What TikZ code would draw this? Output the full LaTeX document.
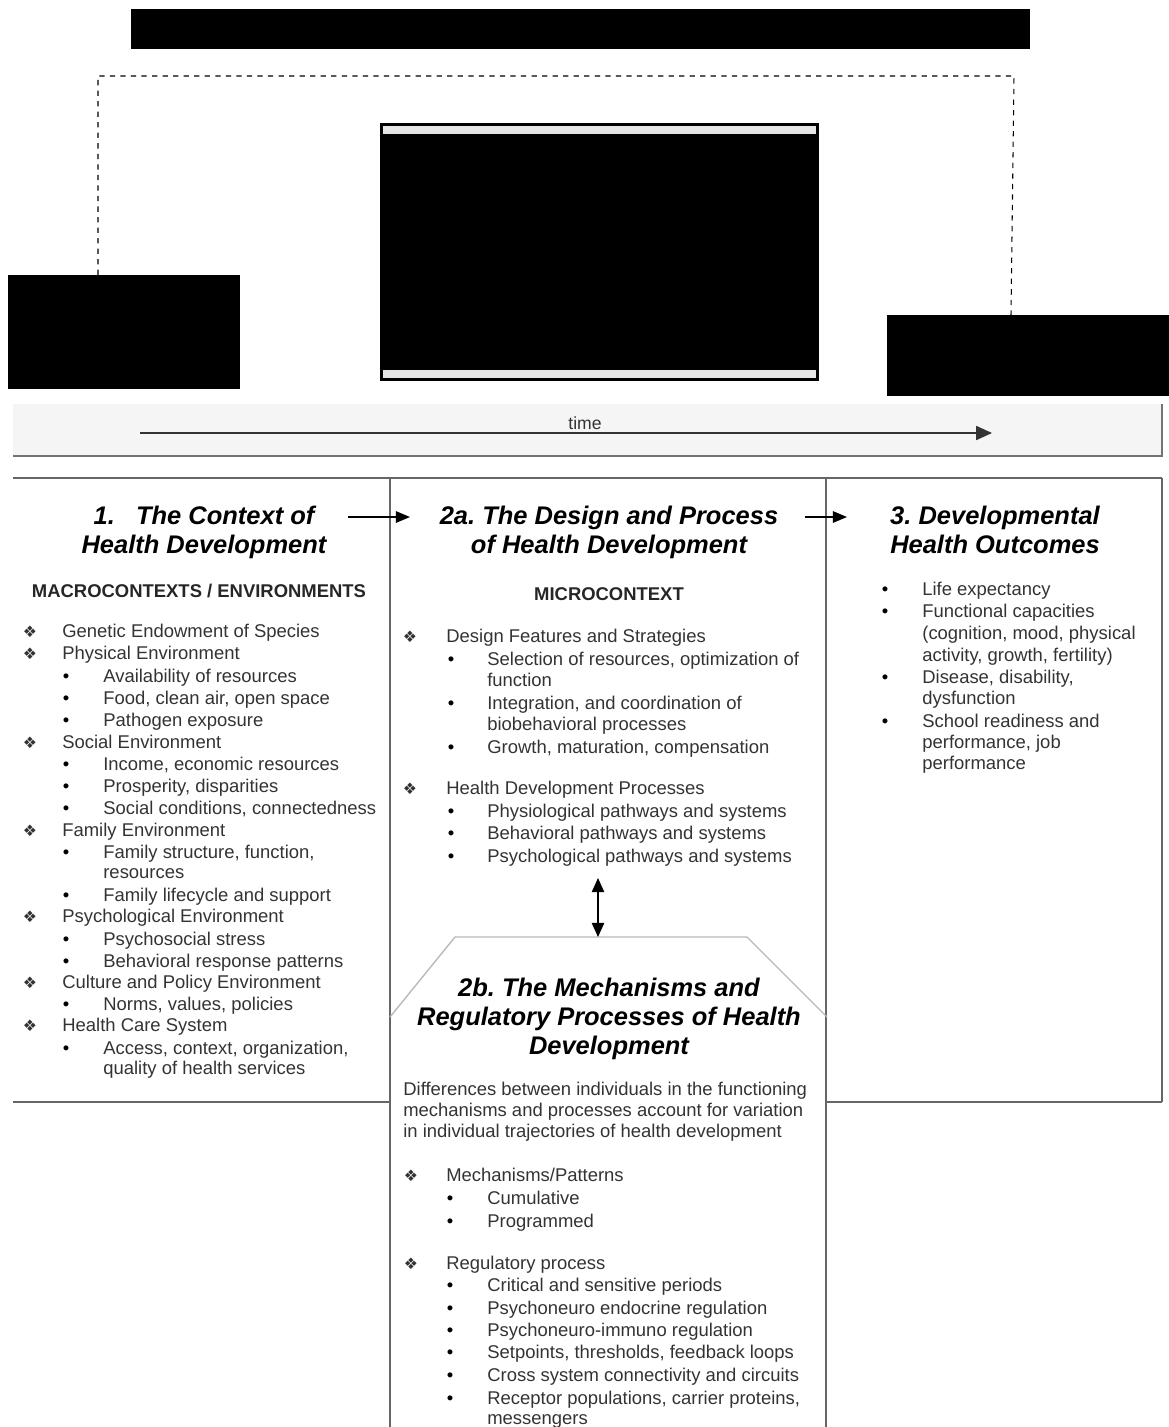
\documentclass[tikz,border=0pt]{standalone}
\usepackage{fontspec}
\setmainfont{Liberation Sans}
\newfontfamily\dingfont{DejaVu Sans}
\usetikzlibrary{arrows.meta}
\frenchspacing

\begin{document}
\begin{tikzpicture}[x=0.02cm, y=-0.02cm,
  frame/.style={draw=black!60, line width=1pt},
  hdr/.style={font=\fontsize{14.5}{16.5}\selectfont\bfseries\itshape, align=center, anchor=base, inner sep=0pt},
  subcap/.style={font=\fontsize{10.5}{12}\selectfont\bfseries, text=black!85, anchor=base, inner sep=0pt},
  itm/.style={font=\fontsize{10.5}{12}\selectfont, text=black!80, anchor=base west, inner sep=0pt},
  dia/.style={font=\dingfont\fontsize{9}{10}\selectfont, text=black!80, anchor=base, inner sep=0pt},
  dot/.style={font=\fontsize{10.5}{12}\selectfont, anchor=base, inner sep=0pt},
  flow/.style={-{Triangle[length=8pt,width=6.5pt]}, line width=0.8pt}]
\useasboundingbox (0,0) rectangle (1169,1427);

%% top: redacted blocks and the dashed link
\fill (131,9) rectangle (1030,49);
\draw[dashed, line width=0.6pt] (98,275) -- (98,76) -- (1014,76) -- (1011,315);
\draw[fill=black, line width=1pt] (381,124) rectangle (818,380);
\fill[gray!20] (383,126) rectangle (816,134);
\fill[gray!20] (383,370) rectangle (816,378);
\fill (8,275) rectangle (240,389);
\fill (887,315) rectangle (1169,396);

%% time bar
\fill[gray!8] (13,404) rectangle (1162,456);
\draw[black!55, line width=1pt] (13,456) -- (1162,456) -- (1162,404);
\coordinate (t0) at (140,433);
\coordinate (t1) at (992,433);
\draw[-{Triangle[length=9pt,width=8pt]}, line width=0.8pt, black!80] (t0) -- (t1);
\node[font=\fontsize{10}{12}\selectfont, text=black!80, anchor=base, inner sep=0pt] (time) at (585,429) {time};

%% column frames
\draw[frame] (13,478) -- (1162,478);
\draw[frame] (390,478) -- (390,1427);
\draw[frame] (826,478) -- (826,1427);
\draw[frame] (1162,478) -- (1162,1102);
\draw[frame] (13,1102) -- (390,1102);
\draw[frame] (826,1102) -- (1162,1102);
\draw[gray!55, line width=0.8pt] (390,1017) -- (455,937) -- (747,937) -- (827,1017);

%% headers (base = last line)
\node[hdr] (ctx) at (204,553) {1.\ \ \ The Context of\\Health Development};
\node[hdr] (design) at (609,553) {2a. The Design and Process\\of Health Development};
\node[hdr] (outc) at (995,553) {3. Developmental\\Health Outcomes};
\node[hdr] (mech) at (609,1054) {2b. The Mechanisms and\\Regulatory Processes of Health\\Development};
\node[subcap] (macro) at (199,597) {MACROCONTEXTS / ENVIRONMENTS};
\node[subcap] (micro) at (609,600) {MICROCONTEXT};

\coordinate (a1s) at (348,517);
\coordinate (a1e) at (410,517);
\coordinate (a2s) at (805,517);
\coordinate (a2e) at (847,517);
\draw[flow] (a1s) -- (a1e);
\draw[flow] (a2s) -- (a2e);
\coordinate (da1) at (598,878);
\coordinate (da2) at (598,937);
\draw[{Triangle[length=8pt,width=7pt]}-{Triangle[length=8pt,width=7pt]}, line width=0.8pt] (da1) -- (da2);

%% column 1
\foreach \y/\t in {637/{Genetic Endowment of Species}, 659/{Physical Environment},
    748/{Social Environment}, 836/{Family Environment}, 922/{Psychological Environment},
    988/{Culture and Policy Environment}, 1031/{Health Care System}}{
  \node[dia] (d1-\y) at (30,\y) {❖};
  \node[itm] (m1-\y) at (62,\y) {\t};
}
\foreach \y/\t in {682/{Availability of resources}, 704/{Food, clean air, open space},
    726/{Pathogen exposure}, 770/{Income, economic resources}, 792/{Prosperity, disparities},
    814/{Social conditions, connectedness}, 858/{Family structure, function,},
    901/{Family lifecycle and support}, 945/{Psychosocial stress},
    967/{Behavioral response patterns}, 1010/{Norms, values, policies},
    1054/{Access, context, organization,}}{
  \node[dot] (b1-\y) at (66,\y) {•};
  \node[itm] (s1-\y) at (103,\y) {\t};
}
\node[itm] (s1-878) at (103,878) {resources};
\node[itm] (s1-1074) at (103,1074) {quality of health services};

%% column 2a
\foreach \y/\t in {642/{Design Features and Strategies}, 794/{Health Development Processes}}{
  \node[dia] (d2-\y) at (410,\y) {❖};
  \node[itm] (m2-\y) at (446,\y) {\t};
}
\foreach \y/\t in {665/{Selection of resources, optimization of},
    709/{Integration, and coordination of}, 753/{Growth, maturation, compensation},
    817/{Physiological pathways and systems}, 839/{Behavioral pathways and systems},
    862/{Psychological pathways and systems}}{
  \node[dot] (b2-\y) at (451,\y) {•};
  \node[itm] (s2-\y) at (487,\y) {\t};
}
\node[itm] (s2-686) at (487,686) {function};
\node[itm] (s2-730) at (487,730) {biobehavioral processes};

%% column 2b
\node[itm] (p1) at (403,1095) {Differences between individuals in the functioning};
\node[itm] (p2) at (403,1116) {mechanisms and processes account for variation};
\node[itm] (p3) at (403,1137) {in individual trajectories of health development};
\foreach \y/\t in {1181/{Mechanisms/Patterns}, 1269/{Regulatory process}}{
  \node[dia] (d3-\y) at (411,\y) {❖};
  \node[itm] (m3-\y) at (446,\y) {\t};
}
\foreach \y/\t in {1204/{Cumulative}, 1227/{Programmed}, 1291/{Critical and sensitive periods},
    1314/{Psychoneuro endocrine regulation}, 1336/{Psychoneuro-immuno regulation},
    1358/{Setpoints, thresholds, feedback loops}, 1381/{Cross system connectivity and circuits},
    1404/{Receptor populations, carrier proteins,}}{
  \node[dot] (b3-\y) at (450,\y) {•};
  \node[itm] (s3-\y) at (487,\y) {\t};
}
\node[itm] (s3-1424) at (487,1424) {messengers};

%% column 3
\foreach \y/\t in {595/{Life expectancy}, 617/{Functional capacities},
    683/{Disease, disability,}, 727/{School readiness and}}{
  \node[dot] (b4-\y) at (885,\y) {•};
  \node[itm] (s4-\y) at (922,\y) {\t};
}
\foreach \y/\t in {639/{(cognition, mood, physical}, 661/{activity, growth, fertility)},
    704/{dysfunction}, 748/{performance, job}, 769/{performance}}{
  \node[itm] (c4-\y) at (922,\y) {\t};
}
\end{tikzpicture}
\end{document}
